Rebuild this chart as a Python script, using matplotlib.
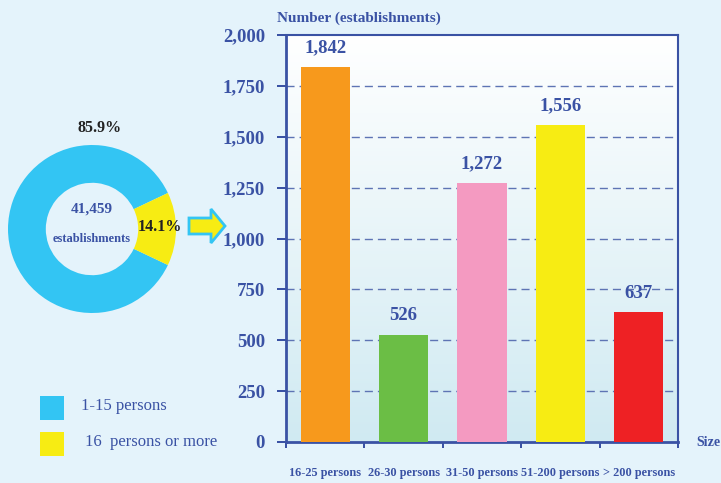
import numpy as np
import matplotlib
matplotlib.use('Agg')
import matplotlib.pyplot as plt
from matplotlib.patches import FancyArrow, Rectangle

# dades
categories = ['16-25 persons', '26-30 persons', '31-50 persons', '51-200 persons', '> 200 persons']
values = [1842, 526, 1272, 1556, 637]
bar_colors = ['#F7991C', '#6BBE45', '#F49AC1', '#F7EC13', '#EE2124']
share_labels = ['1-15 persons', '16  persons or more']
share_values = [85.9, 14.1]
share_colors = ['#33C5F3', '#F7EC13']
total = '41,459'

bg = '#E4F3FB'
blue = '#3A52A4'
plt.rcParams['font.family'] = ['Liberation Serif', 'DejaVu Serif']
px = 72 / 100  # punts per pixel

fig = plt.figure(figsize=(7.21, 4.83), dpi=100, facecolor=bg)

# grafica de barres
ax = fig.add_axes([286 / 721, 1 - 442 / 483, 392 / 721, 407 / 483])
ax.set_xlim(0, len(categories))
ax.set_ylim(0, 2000)
grad = np.linspace(0, 1, 256).reshape(-1, 1)
cmap = matplotlib.colors.LinearSegmentedColormap.from_list('g', ['#D0EAF2', '#FFFFFF'])
ax.imshow(grad, extent=[0, len(categories), 0, 2000], origin='lower', aspect='auto', cmap=cmap, zorder=0)
x = np.arange(len(categories)) + 0.5
ax.bar(x, values, width=0.63, color=bar_colors, zorder=3)
for xi, v in zip(x, values):
    ax.text(xi, v + 95, f'{v:,}', ha='center', va='center', fontsize=13.5, fontweight='bold', color=blue, zorder=4)
for yv in range(250, 2000, 250):
    ax.axhline(yv, color='#5E74B4', ls=(0, (5.8, 3.6)), lw=1, zorder=1)
ax.set_yticks(range(0, 2001, 250))
ax.set_yticklabels([f'{t:,}' for t in range(0, 2001, 250)], fontsize=13.5, fontweight='bold', color=blue)
ax.set_xticks(x)
ax.set_xticklabels(categories, fontsize=8.8, fontweight='bold', color=blue)
ax.set_xticks(range(len(categories) + 1), minor=True)
ax.tick_params(axis='x', which='major', length=0, pad=18)
ax.tick_params(axis='x', which='minor', length=6 * px, width=2 * px, color=blue, direction='out')
ax.tick_params(axis='y', length=9 * px, width=2 * px, color=blue, pad=12 * px)
for s in ax.spines.values():
    s.set_color(blue)
    s.set_linewidth(2)
ax.spines['top'].set_linewidth(1.5)
ax.spines['right'].set_linewidth(1.5)
fig.text(277 / 721, 1 - 18 / 483, 'Number (establishments)', fontsize=11, fontweight='bold', color=blue, va='center')
fig.text(696 / 721, 1 - 442 / 483, 'Size', fontsize=10, fontweight='bold', color=blue, va='center')

# grafica circular
axp = fig.add_axes([8 / 721, 1 - 313 / 483, 168 / 721, 168 / 483])
ang = share_values[1] * 3.6 / 2
wedges, _ = axp.pie(share_values, colors=share_colors, startangle=ang, radius=1,
                    wedgeprops=dict(width=0.45, linewidth=0))
axp.set_xlim(-1, 1)
axp.set_ylim(-1, 1)
axp.set_aspect('equal')
axp.axis('off')
axp.text(0, 0.24, total, ha='center', va='center', fontsize=11, fontweight='bold', color=blue)
axp.text(0, -0.12, 'establishments', ha='center', va='center', fontsize=9, fontweight='bold', color=blue)
fig.text(100 / 721, 1 - 128 / 483, f'{share_values[0]}%', ha='center', va='center', fontsize=11.5, fontweight='bold', color='#222222')
fig.text(160 / 721, 1 - 227 / 483, f'{share_values[1]}%', ha='center', va='center', fontsize=11.5, fontweight='bold', color='#222222')

# capa en pixels: fletxa i llegenda
ov = fig.add_axes([0, 0, 1, 1], facecolor='none')
ov.set_xlim(0, 721)
ov.set_ylim(483, 0)
ov.axis('off')
ov.add_patch(FancyArrow(189, 226, 36, 0, width=16, head_width=34, head_length=14,
                        length_includes_head=True, facecolor='#F7EC13', edgecolor='#33C5F3', lw=2))

for i, (lab, col) in enumerate(zip(share_labels, share_colors)):
    y0 = 396 + i * 36
    ov.add_patch(Rectangle((40, y0), 24, 24, facecolor=col, edgecolor='none'))
    ov.text(81 + i * 4, y0 + 10, lab, fontsize=12, color=blue, va='center', ha='left')

fig.savefig('out.png', dpi=100, facecolor=bg)
